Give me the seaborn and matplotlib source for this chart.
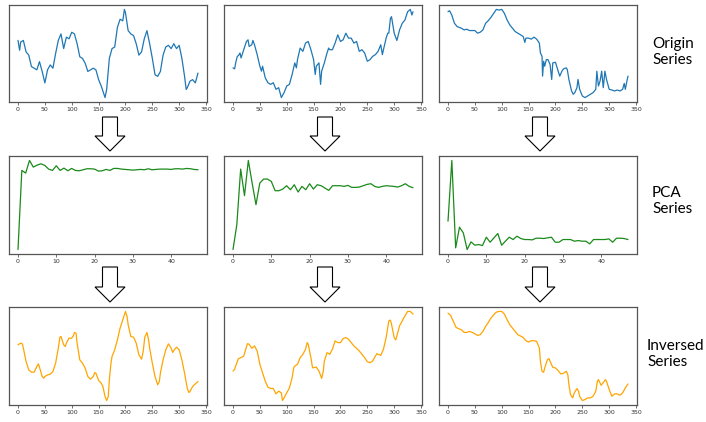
import matplotlib
matplotlib.use("Agg")
import matplotlib.pyplot as plt
from matplotlib.patches import Polygon
import seaborn as sns

origin_x1 = [0, 3, 5, 10, 15, 20, 25, 30, 35, 40, 45, 50, 55, 60, 65, 70, 75, 80, 85, 90,
             95, 100, 105, 110, 115, 120, 125, 130, 135, 140, 145, 150, 155, 160, 162, 165,
             170, 175, 180, 185, 190, 195, 198, 200, 205, 210, 215, 220, 225, 230, 235, 240,
             245, 250, 255, 260, 265, 270, 275, 280, 285, 290, 295, 300, 305, 310, 313, 315,
             320, 325, 330, 335]
origin_y1 = [120, 150, 125, 120, 155, 165, 200, 205, 210, 185, 215, 250, 210, 195, 205, 160,
             120, 100, 145, 110, 115, 95, 100, 130, 170, 175, 190, 215, 210, 205, 210, 240,
             260, 285, 295, 270, 175, 145, 140, 80, 55, 60, 25, 35, 90, 100, 105, 130, 165,
             155, 115, 90, 130, 175, 225, 230, 215, 165, 140, 135, 145, 130, 145, 135, 175,
             230, 270, 265, 245, 240, 250, 220]

origin_x2 = [0, 3, 5, 8, 10, 13, 15, 20, 25, 28, 30, 35, 37, 40, 45, 50, 53, 55, 60, 65, 70,
             75, 80, 85, 90, 95, 100, 105, 110, 115, 118, 120, 125, 130, 135, 140, 145, 150,
             153, 155, 160, 163, 165, 170, 175, 178, 180, 185, 190, 195, 200, 205, 210, 215,
             220, 225, 230, 235, 240, 245, 250, 255, 260, 265, 270, 275, 278, 280, 285, 288,
             290, 293, 295, 300, 305, 310, 315, 320, 325, 330, 333, 335]
origin_y2 = [205, 208, 190, 170, 168, 160, 175, 150, 125, 120, 140, 135, 122, 135, 165, 200,
             215, 200, 235, 250, 255, 250, 270, 265, 295, 280, 260, 255, 225, 190, 205, 180,
             145, 155, 130, 125, 150, 180, 225, 200, 190, 255, 215, 190, 160, 145, 150, 150,
             130, 105, 125, 120, 100, 115, 115, 130, 125, 155, 150, 160, 185, 180, 170, 165,
             155, 135, 165, 150, 115, 100, 100, 55, 50, 100, 122, 90, 70, 60, 35, 28, 45, 35]

origin_x3 = [0, 3, 7, 12, 17, 25, 30, 35, 40, 50, 55, 60, 65, 70, 75, 80, 85, 90, 95, 100,
             105, 110, 115, 120, 125, 130, 135, 140, 143, 145, 150, 155, 160, 165, 170, 172,
             175, 176, 178, 180, 183, 186, 190, 193, 195, 200, 205, 208, 212, 215, 220, 222,
             225, 230, 233, 236, 240, 242, 245, 250, 255, 260, 265, 270, 275, 277, 280, 283,
             286, 289, 292, 295, 300, 305, 310, 315, 320, 325, 328, 330, 333, 335]
origin_y3 = [35, 32, 45, 70, 80, 85, 90, 88, 92, 92, 100, 97, 90, 70, 62, 52, 40, 28, 30, 28,
             40, 60, 75, 85, 95, 100, 105, 110, 128, 115, 115, 118, 112, 118, 130, 160, 170,
             230, 185, 200, 180, 180, 195, 240, 190, 188, 215, 230, 215, 208, 205, 210, 240,
             275, 285, 280, 265, 240, 270, 290, 295, 290, 285, 280, 270, 215, 260, 245, 215,
             265, 215, 240, 270, 272, 275, 272, 275, 270, 252, 270, 245, 230]

pca_x = list(range(48))
pca_y1 = [420, 182, 190, 152, 172, 166, 162, 167, 178, 182, 168, 182, 175, 183, 176, 182,
          183, 180, 177, 177, 178, 184, 183, 179, 182, 176, 176, 178, 179, 180, 181, 180,
          179, 180, 177, 180, 179, 178, 178, 178, 179, 177, 177, 178, 176, 177, 179, 180]
pca_y2 = [420, 345, 178, 258, 152, 220, 285, 220, 208, 208, 215, 243, 243, 238, 228, 240,
          225, 247, 230, 240, 222, 238, 225, 228, 235, 242, 228, 228, 228, 230, 227, 233,
          233, 232, 228, 224, 222, 230, 233, 230, 228, 229, 230, 232, 228, 222, 230, 234]
pca_y3 = [330, 148, 410, 348, 365, 415, 392, 402, 400, 403, 378, 393, 380, 367, 402, 390,
          378, 385, 375, 382, 385, 385, 386, 381, 381, 382, 380, 378, 393, 393, 385, 385,
          385, 390, 388, 390, 390, 398, 385, 385, 385, 385, 383, 393, 381, 381, 382, 385]

inv_x1 = [0, 5, 8, 10, 15, 20, 25, 30, 35, 38, 40, 45, 48, 50, 55, 60, 65, 70, 75, 78, 80,
          85, 88, 90, 95, 100, 103, 105, 108, 110, 115, 120, 125, 130, 135, 140, 143, 145,
          150, 155, 158, 162, 165, 168, 170, 173, 175, 180, 185, 190, 195, 200, 203, 205,
          210, 215, 220, 225, 230, 233, 236, 240, 243, 245, 250, 255, 260, 263, 265, 270,
          275, 280, 285, 288, 290, 295, 300, 305, 310, 315, 318, 320, 325, 330, 335]
inv_y1 = [255, 250, 252, 265, 305, 330, 337, 337, 320, 312, 322, 350, 355, 350, 345, 343,
          335, 310, 265, 232, 230, 255, 260, 250, 235, 235, 228, 218, 220, 250, 300, 310,
          325, 350, 358, 350, 338, 340, 362, 370, 380, 410, 422, 410, 360, 310, 290, 270,
          240, 205, 180, 155, 170, 195, 230, 232, 250, 285, 298, 275, 232, 218, 240, 265,
          310, 350, 375, 365, 340, 300, 270, 252, 265, 278, 272, 262, 270, 300, 340, 385,
          398, 395, 380, 372, 365]

inv_x2 = [0, 3, 5, 10, 15, 20, 25, 27, 30, 35, 40, 45, 50, 55, 60, 65, 70, 75, 80, 85, 90,
          92, 95, 100, 105, 110, 113, 115, 120, 125, 130, 135, 138, 140, 145, 148, 150, 155,
          160, 165, 168, 170, 175, 180, 185, 190, 195, 200, 205, 210, 215, 220, 225, 230,
          235, 240, 245, 250, 255, 260, 265, 268, 270, 275, 280, 285, 290, 293, 295, 300,
          303, 305, 310, 315, 320, 325, 330, 335]
inv_y2 = [330, 325, 315, 293, 290, 285, 258, 248, 250, 262, 255, 270, 310, 335, 360, 378,
          382, 382, 398, 390, 395, 418, 410, 395, 380, 350, 320, 315, 310, 290, 280, 265,
          245, 250, 290, 320, 320, 318, 330, 352, 330, 300, 275, 280, 265, 240, 245, 245,
          233, 230, 235, 245, 255, 262, 270, 280, 290, 302, 305, 300, 285, 278, 280, 283,
          265, 230, 180, 178, 190, 230, 237, 225, 195, 180, 165, 152, 152, 160]

inv_x3 = [0, 5, 10, 15, 20, 25, 30, 35, 40, 45, 50, 55, 60, 65, 70, 75, 80, 85, 90, 95, 100,
          105, 110, 115, 120, 125, 130, 135, 140, 145, 150, 155, 160, 165, 170, 172, 175,
          178, 180, 185, 188, 190, 195, 200, 205, 210, 215, 220, 223, 225, 228, 232, 235,
          240, 243, 245, 250, 255, 260, 265, 270, 275, 278, 280, 285, 290, 293, 295, 300,
          305, 310, 315, 320, 325, 330, 335]
inv_y3 = [155, 162, 180, 198, 202, 205, 213, 213, 210, 213, 217, 222, 220, 210, 195, 183,
          170, 160, 152, 150, 150, 158, 175, 190, 200, 210, 220, 224, 228, 238, 242, 238,
          238, 240, 260, 300, 330, 333, 320, 295, 292, 300, 318, 320, 328, 338, 336, 330,
          340, 370, 400, 410, 395, 382, 390, 405, 418, 415, 410, 410, 405, 390, 360, 355,
          372, 362, 355, 360, 385, 405, 398, 398, 402, 395, 380, 368]

rows = [
    [(origin_x1, origin_y1), (origin_x2, origin_y2), (origin_x3, origin_y3)],
    [(pca_x, pca_y1), (pca_x, pca_y2), (pca_x, pca_y3)],
    [(inv_x1, inv_y1), (inv_x2, inv_y2), (inv_x3, inv_y3)],
]
row_colors = ["#1f77b4", "#1a8a1a", "#ffa500"]
row_ticks = [list(range(0, 351, 50)), list(range(0, 41, 10)), list(range(0, 351, 50))]
row_names = ["Origin\nSeries", "PCA\nSeries", "Inversed\nSeries"]

sns.set_style("white")

W, H = 706, 422
fig = plt.figure(figsize=(W / 100, H / 100), dpi=100)

col_left = [9, 224, 439]
row_top = [5, 156, 307]
row_bottom = [102, 254, 405]
panel_w = 198

for r, row in enumerate(rows):
    for c, (xs, ys) in enumerate(row):
        ax = fig.add_axes([col_left[c] / W, (H - row_bottom[r]) / H,
                           panel_w / W, (row_bottom[r] - row_top[r]) / H])
        sns.lineplot(x=xs, y=ys, ax=ax, color=row_colors[r], linewidth=0.9)
        ax.invert_yaxis()
        ax.set_xticks(row_ticks[r])
        ax.set_yticks([])
        ax.tick_params(axis="x", bottom=True, length=2, width=0.5, pad=1.5,
                       labelsize=4.5, colors="#333333")
        for s in ax.spines.values():
            s.set_color("#555555")
            s.set_linewidth(0.9)

# hollow arrows between the rows
arrow_cx = [110, 325, 540]
arrow_rows = [(117, 136, 151), (267, 287, 302)]
for top, base, tip in arrow_rows:
    for cx in arrow_cx:
        pts = [(cx - 7.5, top), (cx + 7.5, top), (cx + 7.5, base), (cx + 15, base),
               (cx, tip), (cx - 15, base), (cx - 7.5, base)]
        pts = [(px / W, (H - py) / H) for px, py in pts]
        fig.patches.append(Polygon(pts, closed=True, facecolor="white", edgecolor="black",
                                   linewidth=0.8, transform=fig.transFigure, figure=fig))

label_pos = [(652, 52), (652, 201), (647, 354)]
for (lx, ly), name in zip(label_pos, row_names):
    fig.text(lx / W, (H - ly) / H, name, ha="left", va="center", fontsize=11,
             family=["Lato", "DejaVu Sans"], linespacing=1.15, color="black")

fig.savefig("out.png", dpi=100)
